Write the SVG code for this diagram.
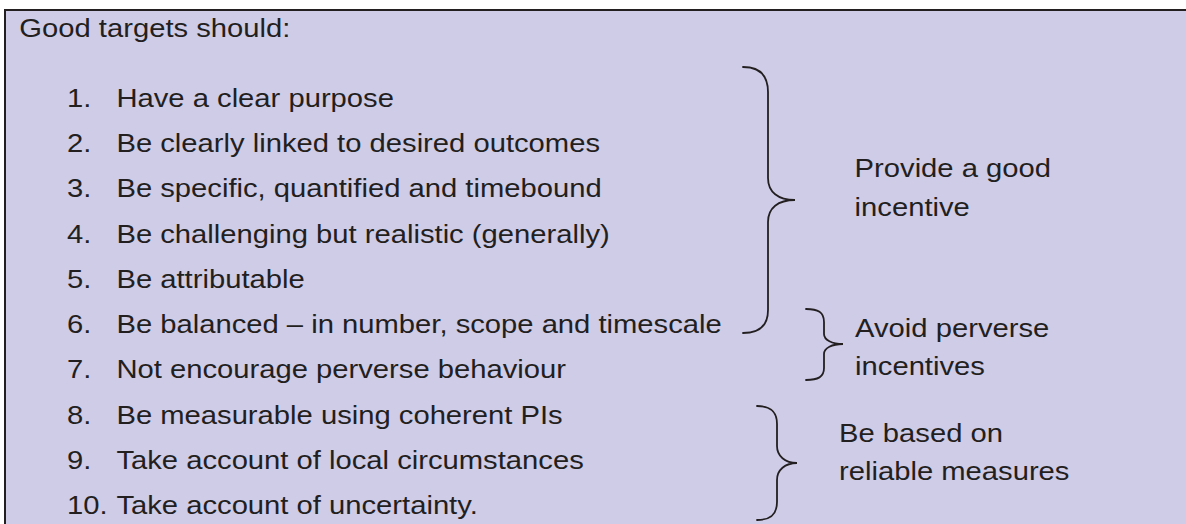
<svg xmlns="http://www.w3.org/2000/svg" width="1186" height="524" viewBox="0 0 1186 524">
<style>
.t{font-family:"Liberation Sans",Arial,sans-serif;font-size:25.5px;fill:#231F20}
.br{fill:none;stroke:#231F20;stroke-width:1.8;stroke-linecap:round}
</style>
<rect width="1186" height="524" fill="#ffffff"/>
<g id="box">
<rect x="5" y="10" width="1200" height="540" fill="#CFCCE8" stroke="#231F20" stroke-width="2"/>
</g>
<g id="list" transform="scale(1.145 1)">
<text class="t" x="16.9" y="37.3">Good targets should:</text>
<g id="numbers">
<text class="t" x="58.5" y="106.7">1.</text>
<text class="t" x="58.5" y="152">2.</text>
<text class="t" x="58.5" y="197.3">3.</text>
<text class="t" x="58.5" y="242.6">4.</text>
<text class="t" x="58.5" y="287.9">5.</text>
<text class="t" x="58.5" y="333.2">6.</text>
<text class="t" x="58.5" y="378.5">7.</text>
<text class="t" x="58.5" y="423.8">8.</text>
<text class="t" x="58.5" y="469.1">9.</text>
<text class="t" x="58.5" y="514.4">10.</text>
</g>
<g id="items">
<text class="t" x="101.7" y="106.7">Have a clear purpose</text>
<text class="t" x="101.7" y="152">Be clearly linked to desired outcomes</text>
<text class="t" x="101.7" y="197.3">Be specific, quantified and timebound</text>
<text class="t" x="101.7" y="242.6">Be challenging but realistic (generally)</text>
<text class="t" x="101.7" y="287.9">Be attributable</text>
<text class="t" x="101.7" y="333.2">Be balanced – in number, scope and timescale</text>
<text class="t" x="101.7" y="378.5">Not encourage perverse behaviour</text>
<text class="t" x="101.7" y="423.8">Be measurable using coherent PIs</text>
<text class="t" x="101.7" y="469.1">Take account of local circumstances</text>
<text class="t" x="101.7" y="514.4">Take account of uncertainty.</text>
</g>
<g id="label-incentive">
<text class="t" x="746.4" y="177.3">Provide a good</text>
<text class="t" x="746.4" y="216">incentive</text>
</g>
<g id="label-perverse">
<text class="t" x="746.8" y="336.7">Avoid perverse</text>
<text class="t" x="746.8" y="375">incentives</text>
</g>
<g id="label-reliable">
<text class="t" x="732.8" y="441.7">Be based on</text>
<text class="t" x="732.8" y="480">reliable measures</text>
</g>
</g>
<g id="braces">
<path class="br" d="M743,67 C760,67 768,75 768,92 L768,178 C768,192 778,200 795,200 C778,200 768,208 768,222 L768,310 C768,325 760,333 743,333"/>
<path class="br" d="M806,309 C818,309 824,312 824,322 L824,334 C824,340 832,344 843,344 C832,344 824,348 824,354 L824,368 C824,377 818,380 806,380"/>
<path class="br" d="M757,406 C770,406 777,411 777,424 L777,446 C777,456 785,463 797,463 C785,463 777,470 777,480 L777,502 C777,515 770,520 757,520"/>
</g>
</svg>
